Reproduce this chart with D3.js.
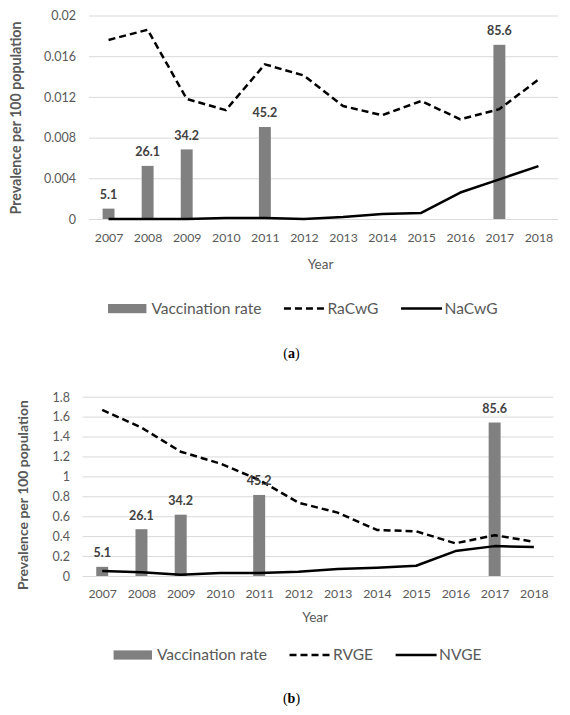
<!DOCTYPE html>
<html>
<head>
<meta charset="utf-8">
<script src="https://cdn.jsdelivr.net/npm/d3@7"></script>
<style>
  html, body { margin: 0; padding: 0; background: #fff; }
  svg { display: block; }
</style>
</head>
<body>
<script>
// ---------------- data ----------------
const years = ['2007','2008','2009','2010','2011','2012','2013','2014','2015','2016','2017','2018'];
const vaccinationRate = [5.1, 26.1, 34.2, null, 45.2, null, null, null, null, null, 85.6, null];

// panel (a)
const racwg = [0.0176, 0.0186, 0.0118, 0.0107, 0.0152, 0.0141, 0.0111, 0.0102, 0.0116, 0.0098, 0.0108, 0.0137];
const nacwg = [0, 0, 0, 0.0001, 0.0001, 0, 0.0002, 0.0005, 0.0006, 0.0026, 0.0039, 0.0052];
const ticksA = [0, 0.004, 0.008, 0.012, 0.016, 0.02];
const tickLabelsA = ['0', '0.004', '0.008', '0.012', '0.016', '0.02'];

// panel (b)
const rvge = [1.667, 1.49, 1.248, 1.13, 0.964, 0.736, 0.636, 0.462, 0.449, 0.328, 0.41, 0.344];
const nvge = [0.05, 0.037, 0.013, 0.03, 0.03, 0.043, 0.07, 0.083, 0.103, 0.25, 0.30, 0.29];
const ticksB = [0, 0.2, 0.4, 0.6, 0.8, 1, 1.2, 1.4, 1.6, 1.8];
const tickLabelsB = ['0', '0.2', '0.4', '0.6', '0.8', '1', '1.2', '1.4', '1.6', '1.8'];

const rateMax = 100; // hidden secondary axis for vaccination rate

// ---------------- layout ----------------
const W = 570, H = 715;
const FONT = 'Lato, "Open Sans", sans-serif';
const GRAY_TEXT = '#595959';
const BAR = '#808080';

const panels = [
  { series: [racwg, nacwg], names: ['RaCwG', 'NaCwG'], ticks: ticksA, labels: tickLabelsA, yMax: 0.02,
    x0: 89, x1: 558, yTop: 15.5, yBot: 219, tickLabelY: 237.5, yearY: 264.3,
    legendY: 308.6, legendCx: 302.8, capY: 353, cap: 'a', titleX: 16.5, titleCy: 118, titleLen: 193, tickPad: 13 },
  { series: [rvge, nvge], names: ['RVGE', 'NVGE'], ticks: ticksB, labels: tickLabelsB, yMax: 1.8,
    x0: 82.6, x1: 553.5, yTop: 396.7, yBot: 576, tickLabelY: 593.3, yearY: 617,
    legendY: 655, legendCx: 297.6, capY: 698.3, cap: 'b', titleX: 23, titleCy: 495, titleLen: 190, tickPad: 12.6 }
];

const svg = d3.select('body').append('svg').attr('width', W).attr('height', H);

function fit(sel, target) {
  const n = sel.node();
  const fs = parseFloat(sel.attr('font-size'));
  const w = n.getComputedTextLength();
  if (w > 0) sel.attr('font-size', (fs * target / w).toFixed(2));
  return sel;
}

panels.forEach(p => {
  const g = svg.append('g');
  const x = d3.scalePoint().domain(years).range([p.x0, p.x1]).padding(0.5);
  const step = x.step();
  const y = d3.scaleLinear().domain([0, p.yMax]).range([p.yBot, p.yTop]);
  const yRate = d3.scaleLinear().domain([0, rateMax]).range([p.yBot, p.yTop]);

  // y axis with gridlines
  const yAxis = d3.axisLeft(y).tickValues(p.ticks)
    .tickFormat((d, i) => p.labels[i])
    .tickSizeInner(-(p.x1 - p.x0)).tickSizeOuter(0).tickPadding(p.tickPad);
  const ya = g.append('g').attr('transform', `translate(${p.x0},0)`).call(yAxis);
  ya.select('.domain').remove();
  ya.selectAll('line').attr('stroke', '#d9d9d9').attr('stroke-width', 1);
  ya.selectAll('text').attr('fill', GRAY_TEXT).attr('font-family', FONT).attr('font-size', 12.5).attr('dy', '0.35em');

  // x axis labels
  const xAxis = d3.axisBottom(x).tickSize(0).tickPadding(0);
  const xa = g.append('g').attr('transform', `translate(0,${p.yBot})`).call(xAxis);
  xa.select('.domain').remove();
  xa.selectAll('text').attr('fill', GRAY_TEXT).attr('font-family', FONT).attr('font-size', 12.3)
    .attr('y', p.tickLabelY - p.yBot).attr('dy', '0.35em');

  // bars
  const barW = step * 0.305;
  const barData = years.map((yr, i) => ({ yr, v: vaccinationRate[i] })).filter(d => d.v != null);
  g.selectAll('rect.bar').data(barData).join('rect').attr('class', 'bar')
    .attr('x', d => x(d.yr) - barW / 2).attr('width', barW)
    .attr('y', d => yRate(d.v)).attr('height', d => p.yBot - yRate(d.v))
    .attr('fill', BAR);

  // lines
  const line = d3.line().x((d, i) => x(years[i])).y(d => y(d));
  p.series.forEach((s, k) => {
    g.append('path').datum(s).attr('d', line).attr('fill', 'none')
      .attr('stroke', '#000').attr('stroke-width', 2.5)
      .attr('stroke-linejoin', 'round')
      .attr('stroke-dasharray', k === 0 ? '7,4' : null);
  });

  // bar data labels
  g.selectAll('text.dl').data(barData).join('text').attr('class', 'dl')
    .attr('x', d => x(d.yr)).attr('y', d => yRate(d.v) - 14).attr('dy', '0.35em')
    .attr('text-anchor', 'middle').attr('font-family', FONT).attr('font-weight', 'bold')
    .attr('font-size', 12.5).attr('fill', '#404040').text(d => d.v.toFixed(1));

  // y axis title
  const yt = g.append('text').attr('transform', `translate(${p.titleX},${p.titleCy}) rotate(-90)`)
    .attr('text-anchor', 'middle').attr('dy', '0.35em').attr('font-family', FONT)
    .attr('font-weight', 'bold').attr('font-size', 13).attr('fill', GRAY_TEXT)
    .text('Prevalence per 100 population');
  fit(yt, p.titleLen);

  // x axis title
  g.append('text').attr('x', (p.x0 + p.x1) / 2 - 3).attr('y', p.yearY).attr('dy', '0.35em')
    .attr('text-anchor', 'middle').attr('font-family', FONT).attr('font-size', 13.5)
    .attr('fill', GRAY_TEXT).text('Year');

  // legend
  const items = [{ type: 'bar', label: 'Vaccination rate' },
                 { type: 'dash', label: p.names[0] },
                 { type: 'solid', label: p.names[1] }];
  const lg = g.append('g');
  let cx = 0;
  let legendFs = 15;
  items.forEach((it, idx) => {
    const sw = it.type === 'bar' ? 38.4 : 41;
    if (it.type === 'bar') {
      lg.append('rect').attr('x', cx).attr('y', -4.6).attr('width', sw).attr('height', 9.2).attr('fill', BAR);
    } else {
      lg.append('line').attr('x1', cx).attr('x2', cx + sw).attr('y1', 0).attr('y2', 0)
        .attr('stroke', '#000').attr('stroke-width', 2.5)
        .attr('stroke-dasharray', it.type === 'dash' ? '7,4' : null);
    }
    cx += sw + (it.type === 'bar' ? 5 : 2.5);
    const t = lg.append('text').attr('x', cx).attr('y', 0).attr('dy', '0.35em')
      .attr('font-family', FONT).attr('font-size', legendFs).attr('fill', GRAY_TEXT).text(it.label);
    if (idx === 0) { fit(t, 110); legendFs = parseFloat(t.attr('font-size')); }
    cx += t.node().getComputedTextLength() + 22.5;
  });
  const total = cx - 22.5;
  lg.attr('transform', `translate(${p.legendCx - total / 2},${p.legendY})`);

  // caption
  const cap = g.append('text').attr('x', 291.5).attr('y', p.capY).attr('dy', '0.35em')
    .attr('text-anchor', 'middle').attr('font-family', '"Liberation Serif", "DejaVu Serif", serif')
    .attr('font-size', 14).attr('fill', '#000');
  cap.append('tspan').text('(');
  cap.append('tspan').attr('font-weight', 'bold').text(p.cap);
  cap.append('tspan').text(')');
});
</script>
</body>
</html>
